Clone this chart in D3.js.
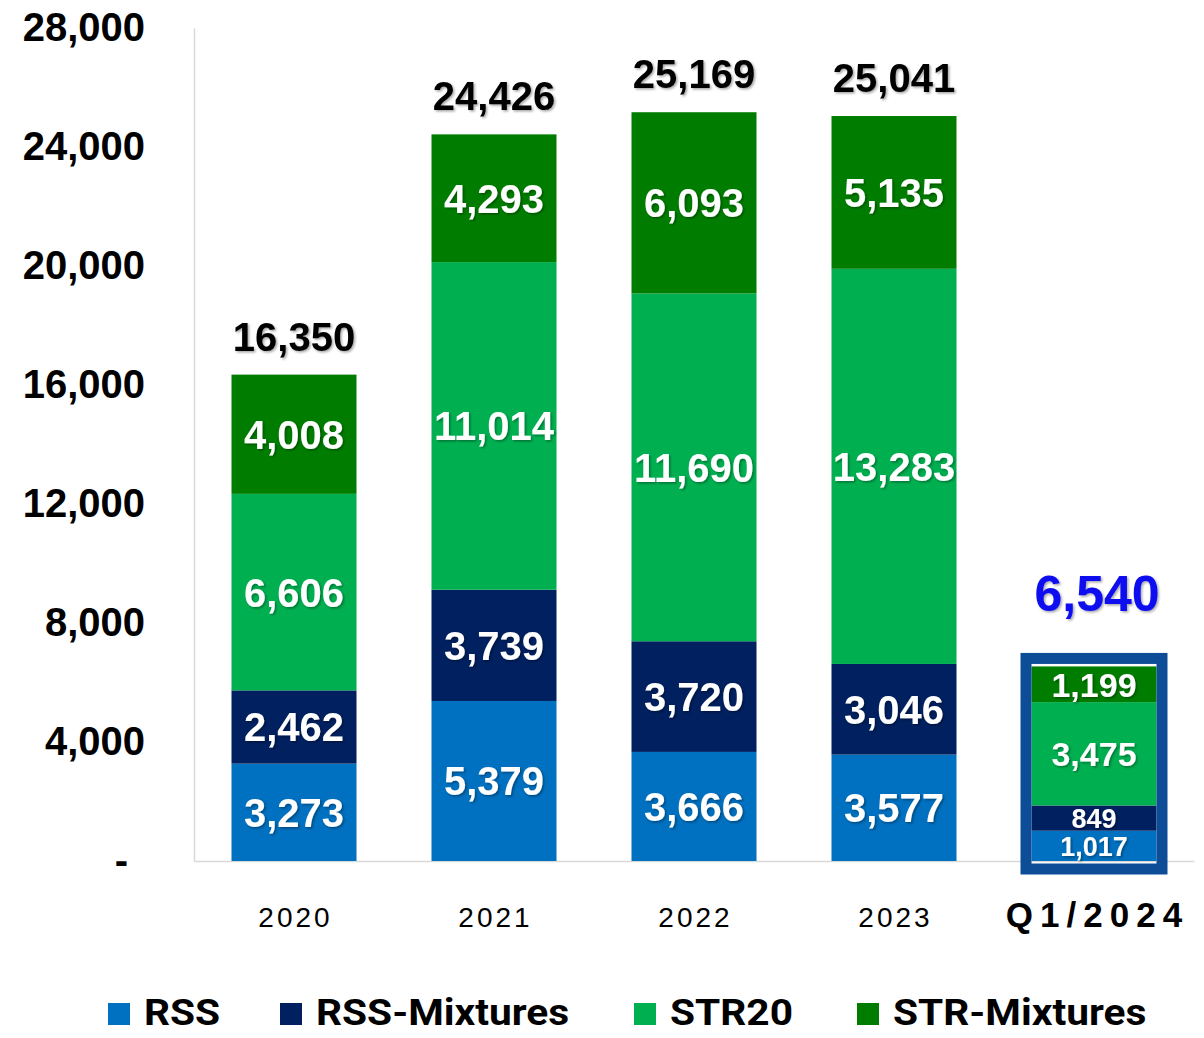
<!DOCTYPE html>
<html>
<head>
<meta charset="utf-8">
<script src="https://cdn.jsdelivr.net/npm/d3@7"></script>
<style>
  body { margin: 0; background: #fff; }
  text { font-family: "Liberation Sans", Arial, sans-serif; }
</style>
</head>
<body>
<svg id="chart"></svg>
<script>
// chart data
var categories = ["2020", "2021", "2022", "2023", "Q1/2024"];
var rss = [3273, 5379, 3666, 3577, 1017];
var rssMixtures = [2462, 3739, 3720, 3046, 849];
var str20 = [6606, 11014, 11690, 13283, 3475];
var strMixtures = [4008, 4293, 6093, 5135, 1199];
var totals = [16350, 24426, 25169, 25041, 6540];
var seriesNames = ["RSS", "RSS-Mixtures", "STR20", "STR-Mixtures"];
var seriesColors = ["#0070C0", "#002060", "#00B050", "#007D00"];
var yTicks = [0, 4000, 8000, 12000, 16000, 20000, 24000, 28000];

var svgWidth = 1204, svgHeight = 1038;
var x0 = 194, x1 = 1194, yBottom = 861, yTop = 28;
var q = "Q1/2024";

var svg = d3.select("#chart")
    .attr("width", svgWidth)
    .attr("height", svgHeight);

// soft shadow used on the value labels
var defs = svg.append("defs");
defs.append("filter").attr("id", "shadow")
    .attr("x", "-10%").attr("y", "-20%").attr("width", "130%").attr("height", "150%")
  .append("feDropShadow")
    .attr("dx", 1.5).attr("dy", 1.5).attr("stdDeviation", 1)
    .attr("flood-color", "#000").attr("flood-opacity", 0.35);

// table for the stack
var table = categories.map(function(c, i) {
    return { cat: c, "RSS": rss[i], "RSS-Mixtures": rssMixtures[i],
             "STR20": str20[i], "STR-Mixtures": strMixtures[i], total: totals[i] };
});
var stacked = d3.stack().keys(seriesNames)(table);

// scales
var xScale = d3.scaleBand()
    .domain(categories)
    .range([x0, x1])
    .paddingInner(0.375)
    .paddingOuter(0.1875);

var yScale = d3.scaleLinear()
    .domain([0, 28000])
    .range([yBottom, yTop]);

var fmt = d3.format(",");

// y axis
var yAxis = d3.axisLeft(yScale)
    .tickValues(yTicks)
    .tickSize(0)
    .tickPadding(49)
    .tickFormat(function(d) { return d === 0 ? "-" : fmt(d); });

var gy = svg.append("g")
    .attr("transform", "translate(" + x0 + ",0)")
    .call(yAxis);
gy.select(".domain").attr("stroke", "#d9d9d9").attr("stroke-width", 1.5);
gy.selectAll("text")
    .attr("font-size", 40)
    .attr("font-weight", "bold")
    .attr("fill", "#000")
    .attr("font-family", "'Liberation Sans', Arial, sans-serif")
    .attr("dx", function(d) { return d === 0 ? -17 : 0; });

// x axis
var xAxis = d3.axisBottom(xScale).tickSize(0);
var gx = svg.append("g")
    .attr("transform", "translate(0," + yBottom + ")")
    .call(xAxis);
gx.select(".domain").attr("stroke", "#d9d9d9").attr("stroke-width", 1.5);
gx.selectAll("text")
    .attr("font-family", "'Liberation Sans', Arial, sans-serif")
    .attr("fill", "#000")
    .attr("y", 66)
    .attr("dy", 0)
    .attr("font-size", function(d) { return d === q ? 35 : 28; })
    .attr("font-weight", function(d) { return d === q ? "bold" : "normal"; })
    .attr("letter-spacing", function(d) { return d === q ? 7 : 3; })
    .attr("dx", function(d) { return d === q ? 3.5 : 1.5; });

// bars
var layers = svg.append("g").selectAll("g")
    .data(stacked)
    .enter().append("g")
    .attr("fill", function(d, i) { return seriesColors[i]; });

layers.selectAll("rect")
    .data(function(d) { return d; })
    .enter().append("rect")
    .attr("x", function(d) { return xScale(d.data.cat); })
    .attr("y", function(d) { return yScale(d[1]); })
    .attr("height", function(d) { return yScale(d[0]) - yScale(d[1]); })
    .attr("width", xScale.bandwidth());

// segment labels
layers.selectAll("text")
    .data(function(d) { return d; })
    .enter().append("text")
    .attr("x", function(d) { return xScale(d.data.cat) + xScale.bandwidth() / 2; })
    .attr("y", function(d) { return (yScale(d[0]) + yScale(d[1])) / 2; })
    .attr("dy", "0.36em")
    .attr("text-anchor", "middle")
    .attr("fill", "#fff")
    .attr("font-weight", "bold")
    .attr("font-size", function(d) {
        var h = yScale(d[0]) - yScale(d[1]);
        if (d.data.cat === q) return h < 32 ? 27 : 34;
        return 40;
    })
    .attr("filter", "url(#shadow)")
    .text(function(d) { return fmt(d[1] - d[0]); });

// highlight box around the latest quarter
var qi = categories.indexOf(q);
svg.append("rect")
    .attr("x", xScale(q) - 5.5)
    .attr("y", yScale(totals[qi]) - 8)
    .attr("width", xScale.bandwidth() + 11)
    .attr("height", yBottom + 8 - (yScale(totals[qi]) - 8))
    .attr("fill", "none")
    .attr("stroke", "#0D4C96")
    .attr("stroke-width", 11);

// totals
svg.append("g").selectAll("text")
    .data(table)
    .enter().append("text")
    .attr("x", function(d) { return xScale(d.cat) + xScale.bandwidth() / 2 + (d.cat === q ? 3 : 0); })
    .attr("y", function(d) { return yScale(d.total) - (d.cat === q ? 55 : 24); })
    .attr("text-anchor", "middle")
    .attr("font-weight", "bold")
    .attr("font-size", function(d) { return d.cat === q ? 50 : 40; })
    .attr("fill", function(d) { return d.cat === q ? "#0A0AF0" : "#000"; })
    .attr("filter", "url(#shadow)")
    .text(function(d) { return fmt(d.total); });

// legend
var legendX = [108, 280, 634, 857];
var legend = svg.append("g").selectAll("g")
    .data(seriesNames)
    .enter().append("g")
    .attr("transform", function(d, i) { return "translate(" + legendX[i] + ",1003)"; });

legend.append("rect")
    .attr("width", 22).attr("height", 22)
    .attr("fill", function(d, i) { return seriesColors[i]; });

legend.append("text")
    .attr("transform", "translate(36,22) scale(1.13,1)")
    .style("font-family", "Roboto, sans-serif")
    .attr("font-weight", "bold")
    .attr("font-size", 36)
    .attr("fill", "#000")
    .text(function(d) { return d; });
</script>
</body>
</html>
